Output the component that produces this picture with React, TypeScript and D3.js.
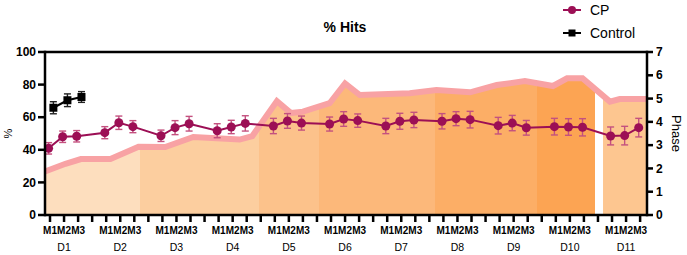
import React from 'react';
import * as d3 from 'd3';

const days = ['D1', 'D2', 'D3', 'D4', 'D5', 'D6', 'D7', 'D8', 'D9', 'D10', 'D11'];
const moments = ['M1', 'M2', 'M3'];
const leftTicks = [0, 20, 40, 60, 80, 100];
const rightTicks = [0, 1, 2, 3, 4, 5, 6, 7];

// CP mean and SEM, 3 moments per day
const cpMean = [40.9, 48.0, 48.3, 50.5, 56.6, 54.2, 48.6, 53.6, 56.0, 51.7, 54.0, 56.2, 54.6, 57.7, 56.4, 55.8, 58.9, 57.9, 54.6, 57.5, 58.3, 57.5, 59.1, 58.5, 54.8, 56.4, 53.5, 54.2, 54.0, 53.8, 48.5, 48.7, 53.6];
const cpErr = [3.5, 3.5, 3.5, 3.7, 4.1, 3.7, 3.5, 4.3, 4.5, 4.3, 4.1, 4.7, 4.7, 4.5, 4.3, 4.3, 4.5, 4.1, 4.7, 4.9, 4.7, 4.7, 4.3, 5.1, 5.1, 4.7, 4.5, 5.1, 5.1, 5.3, 5.5, 5.7, 5.7];
const controlMean = [65.8, 70.4, 72.4];
const controlErr = [3.7, 3.9, 3.3];

// phase background (right axis)
const phaseX = [-0.36, 1.1, 2.2, 4.3, 6.3, 8.2, 10.2, 13.5, 14.4, 16.15, 17.15, 18.0, 19.9, 21.0, 22.05, 25.6, 27.5, 29.9, 31.8, 33.8, 35.8, 36.8, 37.9, 39.85, 40.55, 42.5];
const phaseY = [1.87, 2.2, 2.4, 2.4, 2.93, 2.92, 3.35, 3.24, 3.39, 4.89, 4.38, 4.44, 4.8, 5.65, 5.15, 5.23, 5.37, 5.27, 5.58, 5.75, 5.54, 5.87, 5.87, 4.87, 4.98, 4.98];
const regionStart = [-0.36, 6.4, 14.88, 19.15, 27.4, 34.66, 39.36];
const regionEnd = [6.4, 14.88, 19.15, 27.4, 34.66, 38.79, 42.5];
const regionColors = ['#FDDEBE', '#FCCE9F', '#FCC28B', '#FCB87A', '#FCAE66', '#FCA453', '#FDC690'];

const W = 687, H = 255;
const m = { left: 45, right: 647, top: 52, bottom: 215 };
const CP = '#9C0F55';
const CP_ERR = '#C4517F';
const FONT = 'Arial, "Liberation Sans", sans-serif';

export default function App() {
  const x = d3.scaleLinear().domain([-0.356, 42.49]).range([m.left, m.right]);
  const y = d3.scaleLinear().domain([0, 100]).range([m.bottom, m.top]);
  const y2 = d3.scaleLinear().domain([0, 7]).range([m.bottom, m.top]);

  const slot = (k: number) => Math.floor(k / 3) * 4 + (k % 3);
  const cpPts = cpMean.map((v, k) => ({ x: x(slot(k) - 0.1), y: y(v), lo: y(v - cpErr[k]), hi: y(v + cpErr[k]) }));
  const ctPts = controlMean.map((v, k) => ({ x: x(k + 0.24), y: y(v), lo: y(v - controlErr[k]), hi: y(v + controlErr[k]) }));

  const phase = phaseX.map((px, i) => [px, phaseY[i]] as [number, number]);
  const area = d3.area<[number, number]>().x(d => x(d[0])).y0(m.bottom).y1(d => y2(d[1]));
  const band = d3.line<[number, number]>().x(d => x(d[0])).y(d => y2(d[1]));
  const line = d3.line<{ x: number; y: number }>().x(d => d.x).y(d => d.y);

  const tickIdx = d3.range(0, 43);

  return (
    <svg width={W} height={H} style={{ position: 'absolute', left: 0, top: 0, fontFamily: FONT }}>
      <defs>
        {regionStart.map((s, i) => (
          <clipPath id={`reg${i}`} key={i}>
            <rect x={x(s)} y={0} width={x(regionEnd[i]) - x(s)} height={H} />
          </clipPath>
        ))}
      </defs>
      {regionStart.map((s, i) => (
        <path key={i} d={area(phase) || ''} fill={regionColors[i]} clipPath={`url(#reg${i})`} />
      ))}
      <path d={band(phase) || ''} fill="none" stroke="#F8A2A4" strokeWidth={6} strokeLinejoin="miter" />

      {/* CP */}
      {cpPts.map((p, i) => (
        <g key={i} stroke={CP_ERR} strokeWidth={1.4}>
          <line x1={p.x} x2={p.x} y1={p.lo} y2={p.hi} />
          <line x1={p.x - 3.5} x2={p.x + 3.5} y1={p.lo} y2={p.lo} />
          <line x1={p.x - 3.5} x2={p.x + 3.5} y1={p.hi} y2={p.hi} />
        </g>
      ))}
      <path d={line(cpPts) || ''} fill="none" stroke={CP} strokeWidth={2} />
      {cpPts.map((p, i) => <circle key={i} cx={p.x} cy={p.y} r={4.5} fill={CP} />)}

      {/* Control */}
      {ctPts.map((p, i) => (
        <g key={i} stroke="#222" strokeWidth={1.4}>
          <line x1={p.x} x2={p.x} y1={p.lo} y2={p.hi} />
          <line x1={p.x - 3.5} x2={p.x + 3.5} y1={p.lo} y2={p.lo} />
          <line x1={p.x - 3.5} x2={p.x + 3.5} y1={p.hi} y2={p.hi} />
        </g>
      ))}
      <path d={line(ctPts) || ''} fill="none" stroke="#000" strokeWidth={2} />
      {ctPts.map((p, i) => <rect key={i} x={p.x - 4} y={p.y - 4} width={8} height={8} fill="#000" />)}

      {/* frame */}
      <g stroke="#000" strokeWidth={2.5} fill="none">
        <line x1={m.left} x2={m.right} y1={m.top} y2={m.top} />
        <line x1={m.left} x2={m.right} y1={m.bottom} y2={m.bottom} />
        <line x1={m.left} x2={m.left} y1={m.top - 1.25} y2={m.bottom + 1.25} />
        <line x1={m.right} x2={m.right} y1={m.top - 1.25} y2={m.bottom + 1.25} />
      </g>

      {/* left axis */}
      {leftTicks.map(t => (
        <g key={t}>
          <line x1={m.left - 7} x2={m.left} y1={y(t)} y2={y(t)} stroke="#000" strokeWidth={2.5} />
          <text x={m.left - 9} y={y(t)} dy="0.35em" textAnchor="end" fontSize={12} fontWeight="bold">{t}</text>
        </g>
      ))}
      {/* right axis */}
      {rightTicks.map(t => (
        <g key={t}>
          <line x1={m.right} x2={m.right + 6} y1={y2(t)} y2={y2(t)} stroke="#000" strokeWidth={2.5} />
          <text x={m.right + 9} y={y2(t)} dy="0.35em" textAnchor="start" fontSize={12} fontWeight="bold">{t}</text>
        </g>
      ))}
      {/* bottom axis */}
      {tickIdx.map(i => (
        <line key={i} x1={x(i)} x2={x(i)} y1={m.bottom} y2={m.bottom + 7} stroke="#000" strokeWidth={2.5} />
      ))}
      {days.map((d, di) => (
        <g key={d}>
          {moments.map((mo, mi) => (
            <text key={mo} x={x(di * 4 + mi)} y={234} textAnchor="middle" fontSize={10} fontWeight="bold">{mo}</text>
          ))}
          <text x={x(di * 4 + 1)} y={251} textAnchor="middle" fontSize={10.5}>{d}</text>
        </g>
      ))}

      {/* labels */}
      <text transform={`translate(12,${(m.top + m.bottom) / 2}) rotate(-90)`} textAnchor="middle" fontSize={11}>%</text>
      <text transform={`translate(672,${(m.top + m.bottom) / 2}) rotate(90)`} textAnchor="middle" fontSize={13}>Phase</text>
      <text x={345} y={32} textAnchor="middle" fontSize={14} fontWeight="bold">% Hits</text>

      {/* legend */}
      <g>
        <line x1={563} x2={581} y1={10} y2={10} stroke={CP} strokeWidth={2} />
        <circle cx={572} cy={10} r={4} fill={CP} />
        <text x={590} y={10} dy="0.35em" fontSize={14}>CP</text>
        <line x1={563} x2={581} y1={33} y2={33} stroke="#000" strokeWidth={2} />
        <rect x={568.5} y={29.5} width={7} height={7} fill="#000" />
        <text x={590} y={33} dy="0.35em" fontSize={14}>Control</text>
      </g>
    </svg>
  );
}
